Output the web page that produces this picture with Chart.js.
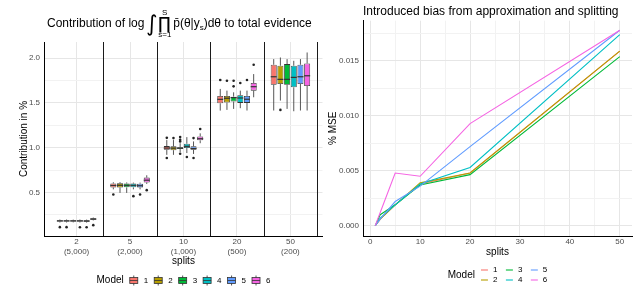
<!DOCTYPE html>
<html>
<head>
<meta charset="utf-8">
<script src="https://cdn.jsdelivr.net/npm/chart.js@4.4.1/dist/chart.umd.min.js"></script>
<style>
  html, body { margin: 0; padding: 0; background: #fff; }
  #wrap { position: relative; width: 635px; height: 288px; }
  #left { position: absolute; left: 0; top: 0; }
  #right { position: absolute; left: 324px; top: 0; }
</style>
</head>
<body>
<div id="wrap">
  <canvas id="left" width="324" height="288"></canvas>
  <canvas id="right" width="311" height="288"></canvas>
</div>
<script>
const FONT = '"Liberation Sans", Arial, sans-serif';

const models = ['1', '2', '3', '4', '5', '6'];
const modelColors = ['#F8766D', '#B79F00', '#00BA38', '#00BFC4', '#619CFF', '#F564E3'];

// left panel: splits and number of observations per split
const splitLabels = ['2', '5', '10', '20', '50'];
const splitSizes = ['(5,000)', '(2,000)', '(1,000)', '(500)', '(200)'];

// boxplot stats, one row per model, one column per split
const boxLow = [
  [0.165, 0.535, 0.920, 1.414, 1.415],
  [0.165, 0.495, 0.920, 1.422, 1.526],
  [0.166, 0.495, 0.950, 1.433, 1.433],
  [0.165, 0.535, 0.940, 1.441, 1.407],
  [0.164, 0.535, 0.930, 1.415, 1.415],
  [0.188, 0.595, 1.050, 1.563, 1.415]
];
const boxQ1 = [
  [0.175, 0.556, 0.977, 1.496, 1.703],
  [0.175, 0.556, 0.972, 1.504, 1.711],
  [0.176, 0.557, 0.985, 1.515, 1.703],
  [0.175, 0.557, 0.996, 1.500, 1.674],
  [0.174, 0.555, 0.977, 1.500, 1.711],
  [0.195, 0.612, 1.082, 1.637, 1.689]
];
const boxMedian = [
  [0.182, 0.578, 0.996, 1.540, 1.792],
  [0.182, 0.580, 0.995, 1.552, 1.763],
  [0.182, 0.580, 0.995, 1.559, 1.763],
  [0.182, 0.580, 1.015, 1.555, 1.785],
  [0.181, 0.575, 0.990, 1.541, 1.792],
  [0.203, 0.637, 1.100, 1.681, 1.803]
];
const boxQ3 = [
  [0.190, 0.600, 1.018, 1.577, 1.926],
  [0.190, 0.603, 1.015, 1.578, 1.915],
  [0.189, 0.600, 1.005, 1.570, 1.933],
  [0.190, 0.600, 1.044, 1.585, 1.915],
  [0.189, 0.598, 1.015, 1.578, 1.926],
  [0.211, 0.666, 1.126, 1.722, 1.940]
];
const boxHigh = [
  [0.198, 0.614, 1.085, 1.656, 1.989],
  [0.198, 0.615, 1.085, 1.637, 2.007],
  [0.197, 0.612, 1.050, 1.618, 1.989],
  [0.198, 0.610, 1.118, 1.637, 1.970],
  [0.197, 0.610, 1.070, 1.637, 1.989],
  [0.220, 0.692, 1.160, 1.822, 2.063]
];
const boxOutliers = [
  [[0.113], [0.478], [1.110, 0.885], [1.755], []],
  [[0.113], [], [1.107], [1.748], [1.422]],
  [[], [], [1.118, 1.089, 1.070, 0.933], [1.748, 1.685], []],
  [[0.111], [0.459], [0.896], [1.722], []],
  [[0.112], [0.478], [1.107, 0.885], [1.755], []],
  [[0.135], [0.526], [1.208], [1.926], []]
];

// right panel: % MSE per number of splits
const mseSplits = [1, 2, 5, 10, 20, 50];
const mseByModel = [
  [0, 0.0006, 0.0019, 0.0038, 0.0048, 0.0159],
  [0, 0.0006, 0.0019, 0.0039, 0.0048, 0.0159],
  [0, 0.0010, 0.0019, 0.0037, 0.00465, 0.0154],
  [0, 0.0007, 0.0019, 0.0038, 0.0053, 0.0174],
  [0, 0.0006, 0.0022, 0.0036, 0.0072, 0.0178],
  [0, 0.0012, 0.0048, 0.0045, 0.0093, 0.0178]
];

const isMult = (v, step) => Math.abs(v / step - Math.round(v / step)) < 1e-6;
const gridColor = step => ctx => (ctx.tick && isMult(ctx.tick.value, step)) ? '#e6e6e6' : '#f2f2f2';

// ---------- left chart ----------
const boxParts = {
  id: 'boxParts',
  beforeDatasetsDraw(chart) {
    const {ctx, chartArea, scales: {x}} = chart;
    ctx.save();
    ctx.strokeStyle = '#1a1a1a';
    ctx.lineWidth = 1;
    for (let k = 1; k <= splitLabels.length; k++) {
      const px = Math.round(x.getPixelForValue(k + 0.5)) + 0.5;
      ctx.beginPath();
      ctx.moveTo(px, chartArea.top);
      ctx.lineTo(px, chartArea.bottom);
      ctx.stroke();
    }
    ctx.restore();
  },
  afterDatasetsDraw(chart) {
    const {ctx, scales: {y}} = chart;
    ctx.save();
    chart.data.datasets.forEach((ds, m) => {
      chart.getDatasetMeta(m).data.forEach((bar, i) => {
        const cx = bar.x, half = bar.width / 2;
        ctx.strokeStyle = '#444';
        ctx.lineWidth = 0.9;
        ctx.beginPath();
        ctx.moveTo(cx, y.getPixelForValue(boxHigh[m][i]));
        ctx.lineTo(cx, y.getPixelForValue(boxQ3[m][i]));
        ctx.moveTo(cx, y.getPixelForValue(boxQ1[m][i]));
        ctx.lineTo(cx, y.getPixelForValue(boxLow[m][i]));
        ctx.stroke();
        ctx.strokeStyle = '#333';
        ctx.lineWidth = 1.2;
        const my = y.getPixelForValue(boxMedian[m][i]);
        ctx.beginPath();
        ctx.moveTo(cx - half, my);
        ctx.lineTo(cx + half, my);
        ctx.stroke();
        ctx.fillStyle = '#222';
        boxOutliers[m][i].forEach(v => {
          ctx.beginPath();
          ctx.arc(cx, y.getPixelForValue(v), 1.3, 0, Math.PI * 2);
          ctx.fill();
        });
      });
    });
    ctx.restore();
  },
  afterDraw(chart) {
    const {ctx, chartArea} = chart;
    ctx.save();
    ctx.fillStyle = '#000';
    ctx.textBaseline = 'alphabetic';
    // title with the integral/product expression
    let x = chartArea.left + 2.5;
    const base = 27;
    const put = (txt, font, dy) => {
      ctx.font = font;
      ctx.fillText(txt, x, base + (dy || 0));
      x += ctx.measureText(txt).width;
    };
    put('Contribution of log', '12px ' + FONT);
    x += 1.5;
    put('\u222B', '22px "DejaVu Sans"', 4);
    x += 1;
    ctx.font = '17px "DejaVu Sans"';
    const pw = ctx.measureText('\u220F').width;
    const pc = x + pw / 2;
    put('\u220F', '17px "DejaVu Sans"', 2);
    ctx.font = '8px ' + FONT;
    ctx.textAlign = 'center';
    ctx.fillText('S', pc, 15);
    ctx.fillText('s=1', pc, 37);
    ctx.textAlign = 'left';
    x += 2;
    put('p\u0304(\u03B8|y', '12px ' + FONT);
    put('s', '8px ' + FONT, 3);
    put(')d\u03B8 to total evidence', '12px ' + FONT);

    // legend
    const cy = 280.5;
    ctx.font = '10px ' + FONT;
    const titleW = ctx.measureText('Model').width;
    ctx.font = '8px ' + FONT;
    const labW = models.map(t => ctx.measureText(t).width);
    const iconW = 8, gap = 6;
    const total = titleW + gap + labW.reduce((a, w) => a + iconW + gap + w, 0) + gap * (models.length - 1);
    let lx = (chartArea.left + chartArea.right) / 2 - total / 2;
    ctx.textBaseline = 'middle';
    ctx.font = '10px ' + FONT;
    ctx.fillText('Model', lx, cy);
    lx += titleW + gap;
    models.forEach((name, m) => {
      const c = lx + iconW / 2;
      ctx.strokeStyle = '#444';
      ctx.lineWidth = 0.9;
      ctx.beginPath();
      ctx.moveTo(c, cy - 5); ctx.lineTo(c, cy + 5);
      ctx.stroke();
      ctx.fillStyle = modelColors[m];
      ctx.fillRect(lx, cy - 3, iconW, 6);
      ctx.strokeStyle = '#333';
      ctx.lineWidth = 0.8;
      ctx.strokeRect(lx, cy - 3, iconW, 6);
      ctx.beginPath();
      ctx.moveTo(lx, cy); ctx.lineTo(lx + iconW, cy);
      ctx.stroke();
      lx += iconW + gap;
      ctx.fillStyle = '#000';
      ctx.font = '8px ' + FONT;
      ctx.fillText(name, lx, cy);
      lx += labW[m] + gap;
    });
    ctx.restore();
  }
};

new Chart(document.getElementById('left'), {
  type: 'bar',
  data: {
    datasets: models.map((name, m) => ({
      label: name,
      data: splitLabels.map((s, i) => ({x: i + 1, y: [boxQ1[m][i], boxQ3[m][i]]})),
      backgroundColor: modelColors[m],
      borderColor: '#333',
      borderWidth: 0.8,
      borderSkipped: false,
      categoryPercentage: 0.75,
      barPercentage: 0.9
    }))
  },
  options: {
    responsive: false,
    devicePixelRatio: 1,
    animation: false,
    events: [],
    layout: {padding: {left: 0, right: 1.5, top: 42, bottom: 0}},
    plugins: {legend: {display: false}, tooltip: {enabled: false}},
    scales: {
      x: {
        type: 'linear', min: 0.4, max: 5.6, offset: false,
        grid: {offset: false, color: '#e6e6e6', drawTicks: false},
        border: {display: true, color: '#000', width: 1},
        ticks: {
          stepSize: 1, includeBounds: false, autoSkip: false, maxRotation: 0, padding: 1,
          color: '#4d4d4d', font: {family: FONT, size: 8, lineHeight: 1.25},
          callback: v => (Number.isInteger(v) && v >= 1 && v <= splitLabels.length) ? [splitLabels[v - 1], splitSizes[v - 1]] : ''
        },
        title: {display: true, text: 'splits', color: '#000', font: {family: FONT, size: 10}, padding: {top: 0, bottom: 21}},
        afterFit: s => { s.height = 52; }
      },
      y: {
        min: 0.014, max: 2.18,
        grid: {color: gridColor(0.5), drawTicks: false},
        border: {display: true, color: '#000', width: 1},
        ticks: {
          stepSize: 0.25, includeBounds: false, padding: 4.5,
          color: '#4d4d4d', font: {family: FONT, size: 8},
          callback: v => isMult(v, 0.5) ? v.toFixed(1) : ''
        },
        title: {display: true, text: 'Contribution in %', color: '#000', font: {family: FONT, size: 10}, padding: {top: 18.5, bottom: 0}},
        afterFit: s => { s.width = 44.5; }
      }
    }
  },
  plugins: [boxParts]
});

// ---------- right chart ----------
const mseDecor = {
  id: 'mseDecor',
  afterDraw(chart) {
    const {ctx, chartArea} = chart;
    ctx.save();
    ctx.fillStyle = '#000';
    ctx.textBaseline = 'alphabetic';
    ctx.font = '12px ' + FONT;
    ctx.fillText('Introduced bias from approximation and splitting', chartArea.left, 15);

    // legend: 3 columns x 2 rows
    ctx.font = '10px ' + FONT;
    const titleW = ctx.measureText('Model').width;
    ctx.font = '8px ' + FONT;
    const labW = Math.max(...models.map(t => ctx.measureText(t).width));
    const lineW = 7, gap = 5, colGap = 8.5, cols = 3;
    const total = titleW + 6 + cols * (lineW + gap + labW) + (cols - 1) * colGap;
    let lx = (chartArea.left + chartArea.right) / 2 - total / 2;
    ctx.textBaseline = 'middle';
    ctx.font = '10px ' + FONT;
    ctx.fillText('Model', lx, 275.6);
    lx += titleW + 6;
    for (let c = 0; c < cols; c++) {
      [0, 1].forEach(r => {
        const m = c * 2 + r;
        const ry = 270 + r * 10;
        ctx.strokeStyle = modelColors[m];
        ctx.lineWidth = 1.1;
        ctx.beginPath();
        ctx.moveTo(lx, ry); ctx.lineTo(lx + lineW, ry);
        ctx.stroke();
        ctx.fillStyle = '#000';
        ctx.font = '8px ' + FONT;
        ctx.fillText(models[m], lx + lineW + gap, ry);
      });
      lx += lineW + gap + labW + colGap;
    }
    ctx.restore();
  }
};

new Chart(document.getElementById('right'), {
  type: 'line',
  data: {
    datasets: models.map((name, m) => ({
      label: name,
      data: mseSplits.map((s, i) => ({x: s, y: mseByModel[m][i]})),
      borderColor: modelColors[m],
      borderWidth: 1.1,
      pointRadius: 0,
      fill: false,
      tension: 0,
      order: models.length - m
    }))
  },
  options: {
    responsive: false,
    devicePixelRatio: 1,
    animation: false,
    events: [],
    layout: {padding: {left: 0, right: 3, top: 20.7, bottom: 0}},
    plugins: {legend: {display: false}, tooltip: {enabled: false}},
    scales: {
      x: {
        type: 'linear', min: -1.45, max: 52.45,
        grid: {color: gridColor(10), drawTicks: false},
        border: {display: true, color: '#000', width: 1},
        ticks: {
          stepSize: 5, includeBounds: false, autoSkip: false, maxRotation: 0, padding: 1,
          color: '#4d4d4d', font: {family: FONT, size: 8},
          callback: v => isMult(v, 10) ? String(v) : ''
        },
        title: {display: true, text: 'splits', color: '#000', font: {family: FONT, size: 10}, padding: {top: 0, bottom: 30}},
        afterFit: s => { s.height = 52; }
      },
      y: {
        min: -0.00094, max: 0.01867,
        grid: {color: gridColor(0.005), drawTicks: false},
        border: {display: true, color: '#000', width: 1},
        ticks: {
          stepSize: 0.0025, includeBounds: false, padding: 4,
          color: '#4d4d4d', font: {family: FONT, size: 8},
          callback: v => isMult(v, 0.005) ? v.toFixed(3) : ''
        },
        title: {display: true, text: '% MSE', color: '#000', font: {family: FONT, size: 10}, padding: {top: 3, bottom: 0}},
        afterFit: s => { s.width = 39; }
      }
    }
  },
  plugins: [mseDecor]
});
</script>
</body>
</html>
